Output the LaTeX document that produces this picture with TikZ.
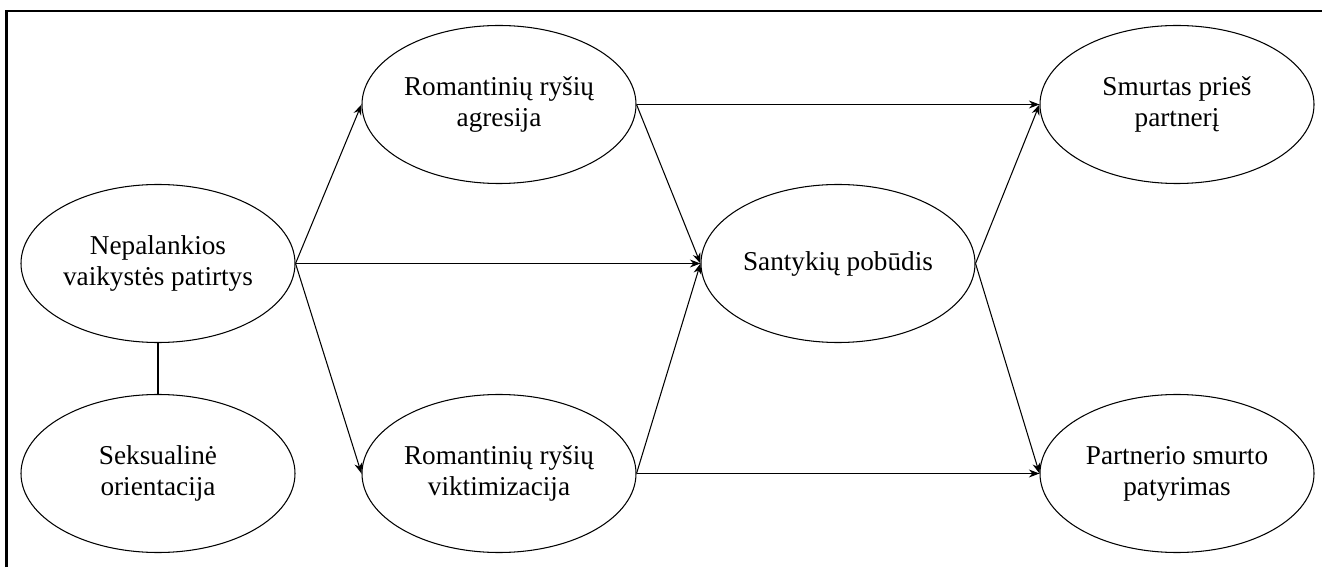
\documentclass[tikz,border=0pt]{standalone}
\usepackage{fontspec}
\setmainfont{Liberation Serif}
\usetikzlibrary{shapes.geometric,arrows.meta}

\begin{document}
\begin{tikzpicture}[
		factor/.style={draw, ellipse, line width=0.6pt, minimum width=5.48cm, minimum height=3.16cm, inner sep=0pt, align=center, font=\fontsize{15.5}{17.6}\selectfont},
		path/.style={-{Stealth[length=6pt,width=4.5pt]}, line width=0.6pt}
	]
		\useasboundingbox (0,0) rectangle (26.44,11.34);
		\draw[line width=1.2pt] (0.13,0)--(0.13,11.12)--(26.44,11.12);
		\node[factor] (nep) at (3.16,6.07) {Nepalankios\\vaikystės patirtys};
		\node[factor] (sek) at (3.16,1.87) {Seksualinė\\orientacija};
		\node[factor] (agr) at (9.98,9.25) {Romantinių ryšių\\agresija};
		\node[factor] (vik) at (9.98,1.87) {Romantinių ryšių\\viktimizacija};
		\node[factor] (san) at (16.76,6.07) {Santykių pobūdis};
		\node[factor] (smu) at (23.54,9.25) {Smurtas prieš\\partnerį};
		\node[factor] (par) at (23.54,1.87) {Partnerio smurto\\patyrimas};
		\draw[line width=0.6pt] (nep.south) -- (sek.north);
		\draw[path] (nep.east) -- (agr.west);
		\draw[path] (nep.east) -- (san.west);
		\draw[path] (nep.east) -- (vik.west);
		\draw[path] (agr.east) -- (smu.west);
		\draw[path] (agr.east) -- (san.west);
		\draw[path] (vik.east) -- (san.west);
		\draw[path] (vik.east) -- (par.west);
		\draw[path] (san.east) -- (smu.west);
		\draw[path] (san.east) -- (par.west);
	\end{tikzpicture}
\end{document}
